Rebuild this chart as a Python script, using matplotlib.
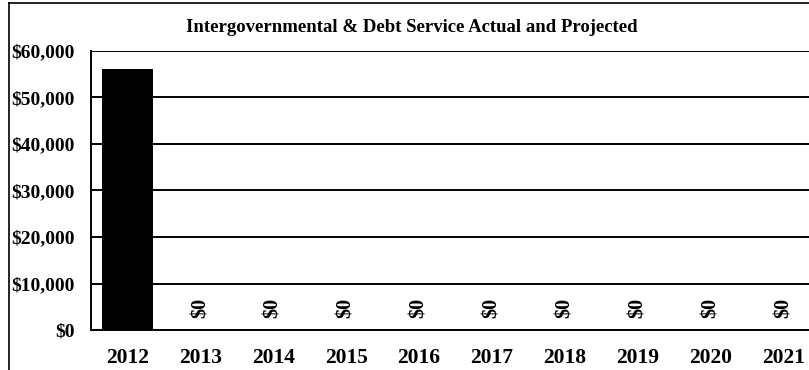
import matplotlib.pyplot as plt
from matplotlib.lines import Line2D
from matplotlib.ticker import FuncFormatter

years = ['2012', '2013', '2014', '2015', '2016', '2017', '2018', '2019', '2020', '2021']
values = [56200, 0, 0, 0, 0, 0, 0, 0, 0, 0]

plt.rcParams['font.family'] = ['Liberation Serif', 'DejaVu Serif']
plt.rcParams['font.weight'] = 'bold'

W, H = 809, 370
fig = plt.figure(figsize=(W / 100, H / 100), dpi=100)
# plot area runs past the right edge of the figure
ax = fig.add_axes([91 / W, 1 - 330 / H, 729 / W, 279 / H])

x = range(len(years))
ax.bar(x, values, width=0.69, color='black', zorder=3)
for xi, v in zip(x, values):
    if v == 0:
        ax.text(xi, 2500, '${:,.0f}'.format(v), rotation=90, ha='center', va='bottom',
                fontsize=14.5, fontweight='bold', zorder=4)

ax.set_xlim(-0.5, len(years) - 0.5)
ax.set_ylim(0, 60000)
ax.set_yticks(range(0, 60001, 10000))
ax.yaxis.set_major_formatter(FuncFormatter(lambda v, p: '${:,.0f}'.format(v)))
ax.set_xticks(list(x))
ax.set_xticklabels(years)
ax.tick_params(axis='x', length=0, pad=13, labelsize=15.5)
ax.tick_params(axis='y', length=0, pad=12, labelsize=14)
ax.grid(axis='y', color='black', linewidth=1.4, zorder=1)
for s in ['top', 'right']:
    ax.spines[s].set_visible(False)
ax.spines['left'].set_linewidth(1.4)
ax.spines['bottom'].set_linewidth(1.4)

fig.text(412 / W, 1 - 28 / H, 'Intergovernmental & Debt Service Actual and Projected',
         ha='center', va='center', fontsize=13.5, fontweight='bold')

# outer chart border (top and left edges)
bx, by = 8.5 / W, 1 - 2.5 / H
fig.add_artist(Line2D([bx, 1], [by, by], transform=fig.transFigure, color='black', linewidth=1.2))
fig.add_artist(Line2D([bx, bx], [0, by], transform=fig.transFigure, color='black', linewidth=1.2))

fig.savefig('out.png', dpi=100)
